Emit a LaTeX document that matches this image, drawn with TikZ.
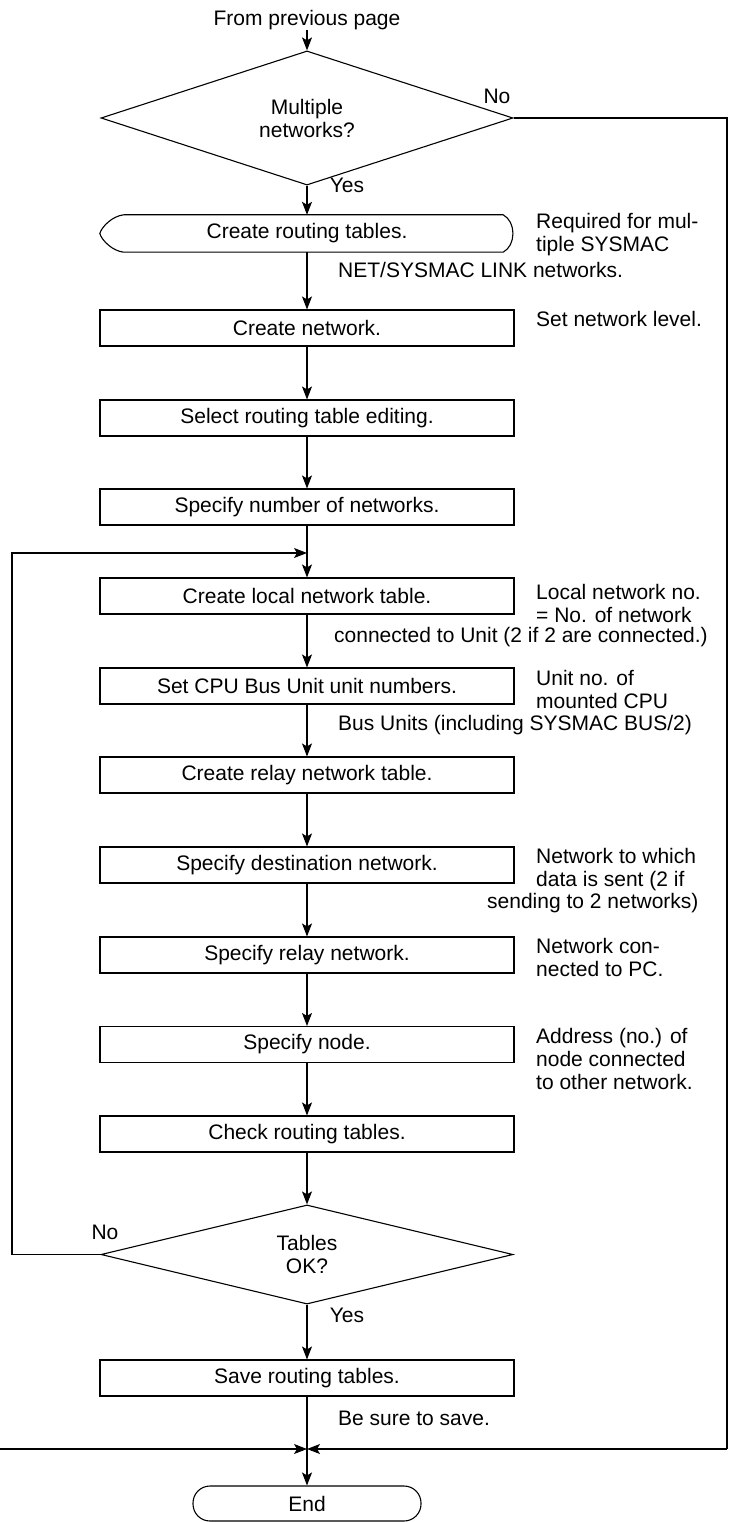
\documentclass[tikz,border=0pt]{standalone}
\usepackage{fontspec}
\setmainfont{Liberation Sans}
\usetikzlibrary{shapes.geometric,arrows.meta,calc}
\begin{document}
\begin{tikzpicture}[x=1pt,y=-1pt,
  every node/.style={font=\fontsize{21}{23}\selectfont, inner sep=0pt},
  line/.style={line width=1.1pt},
  arr/.style={line width=1.1pt, -{Stealth[length=13pt,width=10pt,inset=3pt]}},
  box/.style={draw, line width=1.1pt, minimum width=414pt, minimum height=36pt},
  dec/.style={draw, diamond, line width=1.1pt, minimum width=412pt, minimum height=98pt, align=center},
  note/.style={align=left, anchor=west},
]
\useasboundingbox (0,0) rectangle (729,1522);

% main column
\node (fp) at (307,20) {From previous page};
\node[dec] (d1) at (307,118) {Multiple\\networks?};
\node[minimum width=414pt, minimum height=37pt] (rt) at (307,233.5) {Create routing tables.};
\draw[line] ($(rt.north west)+(24,0)$) -- ($(rt.north east)+(-11,0)$)
  .. controls ($(rt.north east)+(2,7)$) and ($(rt.south east)+(2,-7)$) .. ($(rt.south east)+(-11,0)$)
  -- ($(rt.south west)+(24,0)$)
  .. controls ($(rt.south west)+(13,-1)$) and ($(rt.west)+(2,7)$) .. (rt.west)
  .. controls ($(rt.west)+(2,-7)$) and ($(rt.north west)+(13,1)$) .. ($(rt.north west)+(24,0)$);
\node[box] (cn) at (307,328) {Create network.};
\node[box] (sr) at (307,418) {Select routing table editing.};
\node[box] (sn) at (307,507) {Specify number of networks.};
\node[box] (cl) at (307,596) {Create local network table.};
\node[box] (sc) at (307,686) {Set CPU Bus Unit unit numbers.};
\node[box] (cr) at (307,775) {Create relay network table.};
\node[box] (sd) at (307,865) {Specify destination network.};
\node[box] (rn) at (307,955) {Specify relay network.};
\node[box] (nd) at (307,1044.5) {Specify node.};
\node[box] (ck) at (307,1134) {Check routing tables.};
\node[dec] (d2) at (307,1254.5) {Tables\\OK?};
\node[box] (sv) at (307,1378) {Save routing tables.};
\node[draw, line width=1.1pt, rounded corners=17pt, minimum width=228pt, minimum height=35pt] (en) at (307,1503.5) {End};

% branch labels
\node (n1) at (497,96) {No};
\node (y1) at (347,185) {Yes};
\node (n2) at (105,1232) {No};
\node (y2) at (347,1315) {Yes};

% notes
\node[note] (t1) at (536,235) {Required for mul-\\tiple SYSMAC};
\node[note] (t1b) at (338,270) {NET/SYSMAC LINK networks.};
\node[note] (t2) at (536,319) {Set network level.};
\node[note] (t3) at (536,603) {Local network no.\\= No. of network};
\node[note] (t3b) at (334,637) {connected to Unit (2 if 2 are connected.)};
\node[note] (t4) at (536,689) {Unit no. of\\mounted CPU};
\node[note] (t4b) at (338,725) {Bus Units (including SYSMAC BUS/2)};
\node[note] (t5) at (536,869.5) {Network to which\\data is sent (2 if};
\node[note] (t5b) at (487,903) {sending to 2 networks)};
\node[note] (t6) at (536,957) {Network con-\\nected to PC.};
\node[note] (t7) at (536,1059) {Address (no.) of\\node connected\\to other network.};
\node[note] (t8) at (338,1418) {Be sure to save.};

% coordinates for connectors
\coordinate (r1) at (727,118);
\coordinate (r2) at (727,1449);
\coordinate (m) at (307,1449);
\coordinate (ml) at (0,1449);
\coordinate (lc) at (12,1254.5);
\coordinate (lt) at (12,553);
\coordinate (lp) at (307,553);

% connectors
\draw[arr] (fp) -- (d1.north);
\draw[arr] (d1.south) -- (rt.north);
\draw[arr] (rt) -- (cn);
\draw[arr] (cn) -- (sr);
\draw[arr] (sr) -- (sn);
\draw[arr] (sn) -- (cl);
\draw[arr] (cl) -- (sc);
\draw[arr] (sc) -- (cr);
\draw[arr] (cr) -- (sd);
\draw[arr] (sd) -- (rn);
\draw[arr] (rn) -- (nd);
\draw[arr] (nd) -- (ck);
\draw[arr] (ck) -- (d2.north);
\draw[arr] (d2.south) -- (sv);
\draw[arr] (sv) -- (en);
\draw[line] (d1.east) -- (r1) -- (r2);
\draw[arr] (r2) -- (m);
\draw[arr] (ml) -- (m);
\draw[arr] (d2.west) -- (lc) -- (lt) -- (lp);
\end{tikzpicture}
\end{document}
